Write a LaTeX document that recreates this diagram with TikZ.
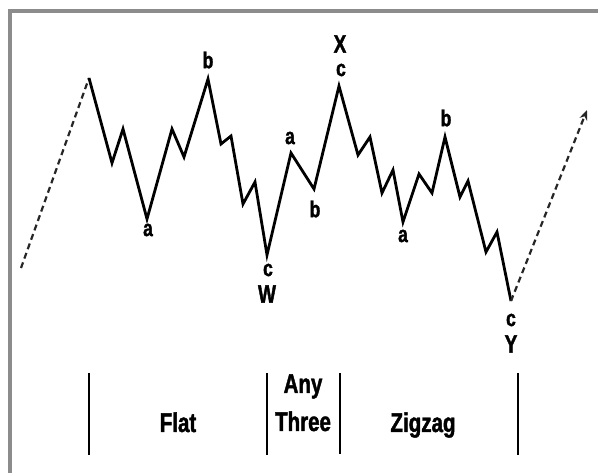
\documentclass[tikz,border=0pt]{standalone}
\usepackage{fontspec}
\setmainfont{Liberation Sans}[FakeStretch=0.76, BoldFeatures={FakeBold=1.5}]
\usetikzlibrary{arrows.meta}
\tikzset{
  wave/.style={line width=2.8pt, line join=miter, black},
  proj/.style={line width=2.2pt, dash pattern=on 6pt off 4pt, black!85},
  lbl/.style={inner sep=0pt, font=\bfseries\fontsize{23}{23}\selectfont},
  ulbl/.style={inner sep=0pt, font=\bfseries\fontsize{25}{25}\selectfont},
  txt/.style={inner sep=0pt, anchor=base, font=\bfseries\fontsize{27}{27}\selectfont},
  bar/.style={line width=2.6pt, black},
  frame/.style={line width=4pt, black!45}
}
\begin{document}
\begin{tikzpicture}[x=1pt,y=-1pt]
\useasboundingbox (0,0) rectangle (598,473);
\fill[white] (0,0) rectangle (598,473);
% frame
\coordinate (fl) at (10,473);
\coordinate (ftl) at (10,11);
\coordinate (ftr) at (598,11);
\draw[frame] (fl) -- (ftl) -- (ftr);
% wave points
\coordinate (s) at (21,268);
\coordinate (p0) at (89,78);
\coordinate (p1) at (112,163);
\coordinate (p2) at (123,129);
\coordinate (A1) at (147,219);
\coordinate (p3) at (172,129);
\coordinate (p4) at (184,157);
\coordinate (B1) at (208,79);
\coordinate (p5) at (221,144);
\coordinate (p6) at (231,136);
\coordinate (p7) at (243,204);
\coordinate (p8) at (255,182);
\coordinate (W) at (267,255);
\coordinate (A2) at (291,153);
\coordinate (B2) at (314,189);
\coordinate (X) at (339,86);
\coordinate (q1) at (358,155);
\coordinate (q2) at (370,137);
\coordinate (q3) at (382,193);
\coordinate (q4) at (393,170);
\coordinate (A3) at (403,222);
\coordinate (q5) at (419,174);
\coordinate (q6) at (432,193);
\coordinate (B3) at (445,137);
\coordinate (q7) at (460,197);
\coordinate (q8) at (468,181);
\coordinate (q9) at (486,252);
\coordinate (q10) at (497,232);
\coordinate (Y) at (511,301);
\coordinate (e) at (587,110);
\draw[proj] (s) -- (p0);
\draw[wave] (p0) -- (p1) -- (p2) -- (A1) -- (p3) -- (p4) -- (B1) -- (p5) -- (p6)
  -- (p7) -- (p8) -- (W) -- (A2) -- (B2) -- (X) -- (q1) -- (q2) -- (q3) -- (q4)
  -- (A3) -- (q5) -- (q6) -- (B3) -- (q7) -- (q8) -- (q9) -- (q10) -- (Y);
\draw[proj, -{Stealth[length=10pt,width=8pt]}] (Y) -- (e);
% labels
\node[lbl] (lb1) at (208,60) {b};
\node[lbl] (la1) at (148,230) {a};
\node[lbl] (lcw) at (268,270) {c};
\node[ulbl] (lW) at (267,294) {W};
\node[lbl] (la2) at (290,138) {a};
\node[lbl] (lb2) at (315,209) {b};
\node[ulbl] (lX) at (340,44) {X};
\node[lbl] (lcx) at (341,70) {c};
\node[lbl] (la3) at (403,236) {a};
\node[lbl] (lb3) at (446,118) {b};
\node[lbl] (lcy) at (511,320) {c};
\node[ulbl] (lY) at (511,344) {Y};
% bottom bars
\coordinate (b1t) at (89,373); \coordinate (b1b) at (89,455);
\coordinate (b2t) at (267,373); \coordinate (b2b) at (267,455);
\coordinate (b3t) at (340,373); \coordinate (b3b) at (340,454);
\coordinate (b4t) at (518,373); \coordinate (b4b) at (518,455);
\draw[bar] (b1t) -- (b1b);
\draw[bar] (b2t) -- (b2b);
\draw[bar] (b3t) -- (b3b);
\draw[bar] (b4t) -- (b4b);
\node[txt] (flat) at (178,432) {Flat};
\node[txt] (any) at (303,393) {Any};
\node[txt] (three) at (303,431) {Three};
\node[txt] (zig) at (423,432) {Zigzag};
\end{tikzpicture}
\end{document}
